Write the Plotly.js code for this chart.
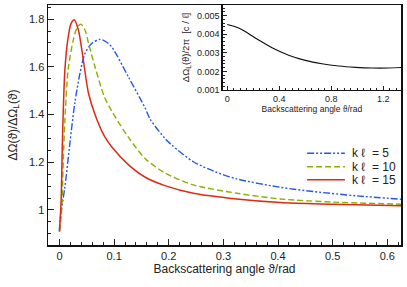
<!DOCTYPE html>
<html>
<head>
<meta charset="utf-8">
<script src="https://cdn.plot.ly/plotly-3.0.1.min.js"></script>
<style>html,body{margin:0;padding:0;background:#fff;}#chart{width:407px;height:287px;}</style>
</head>
<body>
<div id="chart"></div>
<script>
// k l = 5 (blue, dash-dot-dot)
const x_k5 = [0, 0.001, 0.010, 0.019, 0.028, 0.0375, 0.0467, 0.059, 0.074, 0.085, 0.0955, 0.126, 0.157, 0.166, 0.193, 0.2055, 0.245, 0.285, 0.3245, 0.404, 0.465, 0.544, 0.625];
const y_k5 = [0.91, 0.958, 1.098, 1.279, 1.447, 1.573, 1.656, 1.698, 1.715, 1.705, 1.684, 1.558, 1.426, 1.38, 1.30, 1.272, 1.202, 1.16, 1.13, 1.095, 1.077, 1.059, 1.045];
// k l = 10 (green, dashed)
const x_k10 = [0, 0.004, 0.007, 0.010, 0.016, 0.025, 0.0315, 0.039, 0.0467, 0.053, 0.065, 0.082, 0.0955, 0.126, 0.157, 0.193, 0.245, 0.3245, 0.404, 0.5, 0.625];
const y_k10 = [0.91, 1.0, 1.21, 1.38, 1.59, 1.71, 1.76, 1.779, 1.754, 1.70, 1.60, 1.475, 1.415, 1.305, 1.215, 1.155, 1.105, 1.07, 1.046, 1.033, 1.024];
// k l = 15 (red, solid)
const x_k15 = [0, 0.003, 0.005, 0.007, 0.010, 0.015, 0.021, 0.027, 0.0345, 0.041, 0.047, 0.053, 0.065, 0.082, 0.0955, 0.126, 0.157, 0.193, 0.245, 0.3245, 0.404, 0.5, 0.625];
const y_k15 = [0.91, 1.04, 1.25, 1.42, 1.59, 1.71, 1.78, 1.797, 1.755, 1.67, 1.575, 1.49, 1.40, 1.31, 1.265, 1.19, 1.137, 1.102, 1.07, 1.046, 1.031, 1.024, 1.017];
// inset: Delta Omega_L / 2pi
const x_inset = [0, 0.088, 0.215, 0.344, 0.472, 0.6, 0.728, 0.857, 0.985, 1.113, 1.24, 1.338];
const y_inset = [0.00452, 0.00433, 0.0038, 0.00327, 0.00287, 0.00259, 0.00241, 0.00229, 0.00222, 0.00218, 0.00218, 0.00221];

const legendNames = ['k \u2113 \u00a0= 5', 'k \u2113 \u00a0= 10', 'k \u2113 \u00a0= 15'];
const colors = ['#2457f0', '#88b000', '#dd2a12'];
const dashes = ['7px,2px,2px,2px,2px,2px', '6px,3px', 'solid'];
const widths = [1.4, 1.4, 1.5];

const FONT = 'Liberation Sans, Arial, sans-serif';
const series = [[x_k5, y_k5], [x_k10, y_k10], [x_k15, y_k15]];
const traces = series.map((s, i) => ({
  x: s[0], y: s[1], name: legendNames[i], mode: 'lines', showlegend: false,
  line: {color: colors[i], width: widths[i], dash: dashes[i], shape: 'spline', smoothing: 0.8}
}));
traces.push({x: x_inset, y: y_inset, xaxis: 'x2', yaxis: 'y2', mode: 'lines', showlegend: false,
  line: {color: '#111', width: 1.2, shape: 'spline'}});

// legend drawn in paper coordinates (keys + labels)
const legX0 = 0.734, legX1 = 0.841, legTextX = 0.855;
const legY = [0.382, 0.326, 0.272];
const shapes = legendNames.map((n, i) => ({
  type: 'line', xref: 'paper', yref: 'paper', x0: legX0, x1: legX1, y0: legY[i], y1: legY[i],
  line: {color: colors[i], width: widths[i], dash: dashes[i]}
}));
const annotations = legendNames.map((n, i) => ({
  xref: 'paper', yref: 'paper', x: legTextX, y: legY[i], xanchor: 'left', yanchor: 'middle',
  text: n, showarrow: false, font: {size: 12, color: '#222'}
}));

const layout = {
  width: 407, height: 287,
  margin: {l: 48, r: 6, t: 5, b: 42},
  paper_bgcolor: '#fff', plot_bgcolor: '#fff',
  font: {family: FONT, size: 11, color: '#222'},
  showlegend: false,
  shapes: shapes,
  annotations: annotations,
  xaxis: {
    domain: [0, 1], range: [-0.021, 0.625], dtick: 0.1, tick0: 0,
    ticks: 'inside', ticklen: 6, tickwidth: 1, tickcolor: '#222',
    minor: {dtick: 0.02, ticks: 'inside', ticklen: 3, tickcolor: '#222'},
    showline: true, linecolor: '#111', linewidth: 1.5, mirror: true,
    showgrid: false, zeroline: false,
    title: {text: 'Backscattering angle \u03d1/rad', font: {size: 12}, standoff: 3}
  },
  yaxis: {
    domain: [0, 1], range: [0.853, 1.859], dtick: 0.2, tick0: 0,
    ticks: 'inside', ticklen: 6, tickwidth: 1, tickcolor: '#222',
    minor: {dtick: 0.05, ticks: 'inside', ticklen: 3, tickcolor: '#222'},
    showline: true, linecolor: '#111', linewidth: 1.5, mirror: true,
    showgrid: false, zeroline: false,
    title: {text: '\u0394\u03a9(\u03d1)/\u0394\u03a9<sub>L</sub>(\u03d1)', font: {size: 12}, standoff: 9}
  },
  xaxis2: {
    domain: [0.495, 1], anchor: 'y2', range: [-0.035, 1.336], dtick: 0.4, tick0: 0,
    ticks: 'inside', ticklen: 4, tickcolor: '#222', tickfont: {size: 9},
    minor: {dtick: 0.05, ticks: 'inside', ticklen: 2, tickcolor: '#222'},
    showline: true, linecolor: '#111', linewidth: 1.5, mirror: true,
    showgrid: false, zeroline: false,
    title: {text: 'Backscattering angle \u03d1/rad', font: {size: 8.5}, standoff: 1}
  },
  yaxis2: {
    domain: [0.646, 1], anchor: 'x2', range: [0.001, 0.00557], dtick: 0.001, tick0: 0,
    ticks: 'inside', ticklen: 4, tickcolor: '#222', tickfont: {size: 9},
    tickformat: '.3f',
    minor: {dtick: 0.0002, ticks: 'inside', ticklen: 2, tickcolor: '#222'},
    showline: true, linecolor: '#111', linewidth: 1.5, mirror: true,
    showgrid: false, zeroline: false,
    title: {text: '\u0394\u03a9<sub>L</sub>(\u03d1)/2\u03c0  [c / \u2113]', font: {size: 9.5}, standoff: 5}
  }
};

Plotly.newPlot('chart', traces, layout, {displayModeBar: false, staticPlot: true});
</script>
</body>
</html>
